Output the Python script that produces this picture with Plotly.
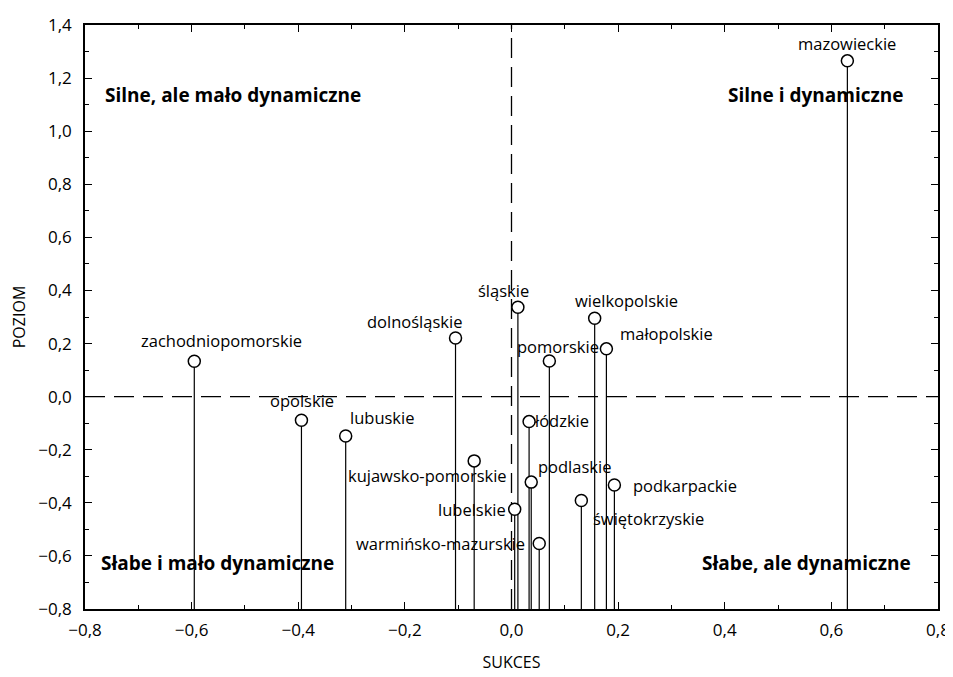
import plotly.graph_objects as go

# ---- data ----
regions = ["mazowieckie", "zachodniopomorskie", "opolskie", "lubuskie", "dolnośląskie",
           "śląskie", "wielkopolskie", "małopolskie", "pomorskie", "łódzkie",
           "kujawsko-pomorskie", "podlaskie", "lubelskie", "warmińsko-mazurskie",
           "świętokrzyskie", "podkarpackie"]
sukces = [0.630, -0.595, -0.394, -0.311, -0.105,
          0.012, 0.156, 0.178, 0.071, 0.033,
          -0.070, 0.037, 0.006, 0.052,
          0.131, 0.193]
poziom = [1.265, 0.133, -0.089, -0.148, 0.221,
          0.337, 0.295, 0.180, 0.134, -0.094,
          -0.242, -0.322, -0.424, -0.553,
          -0.391, -0.333]

x_ticks = [-0.8, -0.6, -0.4, -0.2, 0.0, 0.2, 0.4, 0.6, 0.8]
x_ticktext = ["−0,8", "−0,6", "−0,4", "−0,2", "0,0", "0,2", "0,4", "0,6", "0,8"]
y_ticks = [-0.8, -0.6, -0.4, -0.2, 0.0, 0.2, 0.4, 0.6, 0.8, 1.0, 1.2, 1.4]
y_ticktext = ["−0,8", "−0,6", "−0,4", "−0,2", "0,0", "0,2", "0,4", "0,6", "0,8", "1,0", "1,2", "1,4"]

quadrants = ["Silne, ale mało dynamiczne", "Silne i dynamiczne",
             "Słabe i mało dynamiczne", "Słabe, ale dynamiczne"]

# ---- styling (label offsets in pixels: dx, dy up) ----
label_offsets = {
    "mazowieckie": (0, 17), "zachodniopomorskie": (27, 21), "opolskie": (1, 20),
    "lubuskie": (36, 18), "dolnośląskie": (-41, 16), "śląskie": (-14, 17),
    "wielkopolskie": (32, 18), "małopolskie": (60, 15), "pomorskie": (9, 15),
    "łódzkie": (32, 1), "kujawsko-pomorskie": (-47, -15), "podlaskie": (43, 16),
    "lubelskie": (-43, 0), "warmińsko-mazurskie": (-99, 0),
    "świętokrzyskie": (67, -18), "podkarpackie": (71, 0),
}
quad_pos = [(-0.767, 1.138, "left"), (0.738, 1.138, "right"),
            (-0.774, -0.625, "left"), (0.753, -0.625, "right")]

FONT = "Open Sans"
xmin, xmax = x_ticks[0], x_ticks[-1]
ymin, ymax = y_ticks[0], y_ticks[-1]

fig = go.Figure()

# stems from point down to axis bottom
sx, sy = [], []
for x, y in zip(sukces, poziom):
    sx += [x, x, None]
    sy += [y, ymin, None]
fig.add_trace(go.Scatter(x=sx, y=sy, mode="lines",
                         line=dict(color="black", width=1.2),
                         hoverinfo="skip", showlegend=False))

fig.add_trace(go.Scatter(x=sukces, y=poziom, mode="markers", text=regions,
                         marker=dict(size=12, color="white",
                                     line=dict(color="black", width=1.5)),
                         showlegend=False))

# dashed reference lines
fig.add_shape(type="line", x0=0, x1=0, y0=ymin, y1=ymax, xref="x", yref="y",
              line=dict(color="black", width=1.3, dash="20px,9px"), layer="below")
fig.add_shape(type="line", x0=xmin, x1=xmax, y0=0, y1=0, xref="x", yref="y",
              line=dict(color="black", width=1.3, dash="20px,9px"), layer="below")

for name, x, y in zip(regions, sukces, poziom):
    dx, dy = label_offsets[name]
    fig.add_annotation(x=x, y=y, text=name, showarrow=False, xanchor="center",
                       yanchor="middle", xshift=dx, yshift=dy,
                       font=dict(family=FONT, size=16.5, color="black"))

for q, (qx, qy, anc) in zip(quadrants, quad_pos):
    fig.add_annotation(x=qx, y=qy, text="<b>" + q + "</b>", showarrow=False,
                       xanchor=anc, yanchor="middle",
                       font=dict(family=FONT, size=19, color="black"))

axis_common = dict(showgrid=False, zeroline=False, showline=True, linecolor="black",
                   linewidth=1.5, mirror="ticks", ticks="inside", ticklen=7,
                   tickcolor="black", tickwidth=1, automargin=False,
                   tickfont=dict(family=FONT, size=17, color="black"))

fig.update_xaxes(range=[xmin, xmax], tickvals=x_ticks, ticktext=x_ticktext,
                 ticklabelstandoff=5,
                 minor=dict(ticks="inside", ticklen=4, dtick=0.1, tick0=0,
                            tickcolor="black"),
                 title=dict(text="SUKCES", font=dict(family=FONT, size=16, color="black"),
                            standoff=17),
                 **axis_common)
fig.update_yaxes(range=[ymin, ymax], tickvals=y_ticks, ticktext=y_ticktext,
                 ticklabelstandoff=8,
                 minor=dict(ticks="inside", ticklen=4, dtick=0.1, tick0=0,
                            tickcolor="black"),
                 title=dict(text="POZIOM", font=dict(family=FONT, size=16, color="black"),
                            standoff=11),
                 **axis_common)

fig.update_layout(width=953, height=677, plot_bgcolor="white", paper_bgcolor="white",
                  margin=dict(l=77, r=23, t=17, b=76, autoexpand=False), showlegend=False,
                  font=dict(family=FONT, color="black"))

fig.write_html("out.html")
